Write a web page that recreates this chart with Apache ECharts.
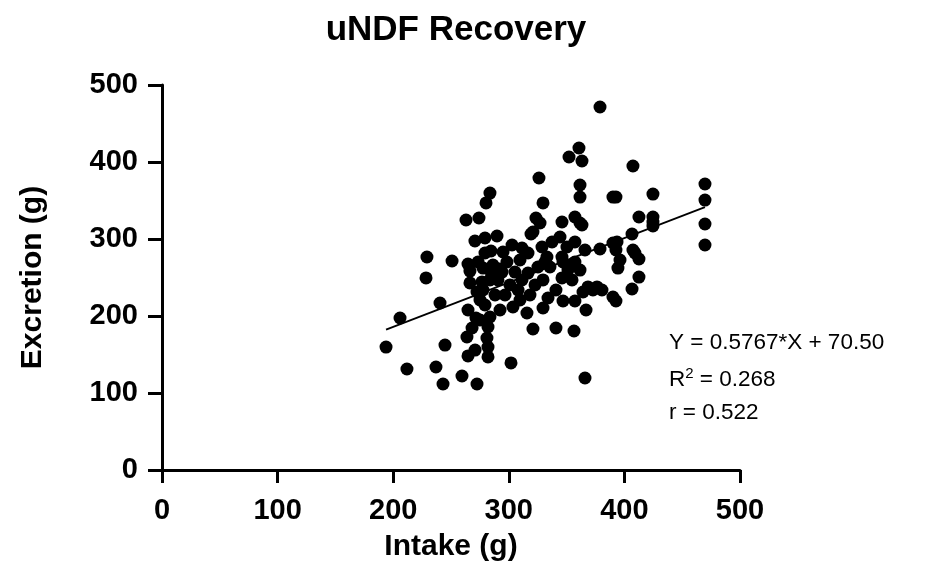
<!DOCTYPE html>
<html>
<head>
<meta charset="utf-8">
<script src="https://cdn.jsdelivr.net/npm/echarts@6/dist/echarts.min.js"></script>
<style>
html,body{margin:0;padding:0;background:#fff;}
#chart{width:942px;height:572px;}
</style>
</head>
<body>
<div id="chart"></div>
<script>
// Intake (g)
const intake = [
193.8,205.9,211.9,228.4,229.2,237.0,240.5,243.1,244.8,250.9,259.5,264.7,272.5,263.0,274.2,280.3,283.7,
270.7,279.4,289.8,264.7,266.4,279.4,284.6,266.4,276.8,283.7,290.6,263.8,268.2,281.1,282.0,282.0,
264.7,275.1,279.4,283.7,282.0,292.4,301.9,303.6,315.7,320.9,329.6,340.8,356.4,365.9,346.9,357.2,
366.8,372.8,380.6,390.1,392.7,326.1,329.6,323.5,327.0,319.2,361.6,361.6,378.9,360.7,352.1,363.3,
407.4,390.1,392.7,424.7,469.7,469.7,469.7,469.7,412.6,424.7,424.7,424.7,406.6,393.6,392.7,396.2,
407.4,409.1,412.6,412.6,406.6,394.4,346.0,357.2,361.6,320.9,344.3,337.4,357.2,350.3,365.9,378.9,
390.1,295.0,328.7,316.6,333.0,346.0,346.9,357.2,309.7,325.2,335.6,351.2,361.6,305.3,316.6,294.1,
289.8,311.4,329.6,346.0,354.7,368.5,376.3,363.3,
273.4,272.5,277.7,286.3,298.4,301.0,308.0,296.7,288.1,271.6,309.7,318.3,322.7,275.1,302.8,311.4,
340.8,333.9,364.2,331.3,270.8,277.7,285.0,292.0
];
// Excretion (g)
const excretion = [
159.7,197.4,131.2,249.4,276.6,133.8,216.9,111.7,162.3,271.4,122.1,148.1,111.7,324.7,327.3,346.8,359.7,
297.4,301.3,303.9,267.5,258.4,281.8,284.4,242.9,244.2,246.8,246.8,172.7,184.4,171.4,159.7,146.8,
207.8,220.8,214.3,198.7,185.7,207.8,139.0,211.7,203.9,183.1,210.4,184.4,180.5,119.5,219.5,219.5,
207.8,233.8,233.8,224.7,219.5,379.2,346.8,327.3,320.8,306.5,370.1,354.5,471.4,418.2,406.5,401.3,
394.8,354.5,354.5,358.4,371.4,350.6,319.5,292.2,328.6,328.6,322.1,316.9,306.5,296.1,285.7,272.7,
285.7,281.8,274.0,250.6,235.1,262.3,322.1,328.6,320.8,309.1,302.6,296.1,296.1,289.6,285.7,287.0,
294.8,283.1,289.6,281.8,276.6,276.6,270.1,270.1,272.7,263.6,263.6,259.7,259.7,257.1,255.8,257.1,
250.6,246.8,246.8,249.4,246.8,237.7,237.7,318.2,
270.1,231.2,262.3,266.2,270.1,240.3,233.8,227.3,227.3,197.4,220.8,227.3,240.3,194.8,292.2,288.3,
233.8,223.4,231.2,270.1,155.8,233.8,256.0,261.0
];
const xTicks = [0, 100, 200, 300, 400, 500];
const yTicks = [0, 100, 200, 300, 400, 500];
const slope = 0.5767;
const intercept = 70.50;
const fitLines = ["Y = 0.5767*X + 70.50", "R² = 0.268", "r = 0.522"];

const points = intake.map((x, i) => [x, excretion[i]]);
const xMin = Math.min(...intake), xMax = Math.max(...intake);
const fit = [[xMin, slope * xMin + intercept], [xMax, slope * xMax + intercept]];

const FONT = '"Liberation Sans", Arial, Helvetica, sans-serif';
const chart = echarts.init(document.getElementById('chart'), null, {renderer: 'canvas'});
chart.setOption({
  backgroundColor: '#fff',
  animation: false,
  title: {
    text: 'uNDF Recovery', left: 451, top: 8, textAlign: 'center',
    textStyle: {fontFamily: FONT, fontSize: 35, fontWeight: 'bold', color: '#000'}
  },
  grid: {left: 162, right: 202, top: 85, bottom: 102, containLabel: false},
  xAxis: {
    type: 'value', min: xTicks[0], max: xTicks[xTicks.length - 1], interval: 100,
    name: 'Intake (g)', nameLocation: 'middle', nameGap: 62,
    nameTextStyle: {fontFamily: FONT, fontSize: 30, fontWeight: 'bold', color: '#000'},
    axisLine: {onZero: false, lineStyle: {color: '#000', width: 3}},
    axisTick: {show: true, length: 13, lineStyle: {color: '#000', width: 3}},
    axisLabel: {fontFamily: FONT, fontSize: 29, fontWeight: 'bold', color: '#000', margin: 26},
    splitLine: {show: false}
  },
  yAxis: {
    type: 'value', min: yTicks[0], max: yTicks[yTicks.length - 1], interval: 100,
    name: 'Excretion (g)', nameLocation: 'middle', nameGap: 114, nameRotate: 90,
    nameTextStyle: {fontFamily: FONT, fontSize: 30, fontWeight: 'bold', color: '#000'},
    axisLine: {show: true, onZero: false, lineStyle: {color: '#000', width: 3}},
    axisTick: {show: true, length: 14, lineStyle: {color: '#000', width: 3}},
    axisLabel: {fontFamily: FONT, fontSize: 29, fontWeight: 'bold', color: '#000', margin: 24},
    splitLine: {show: false}
  },
  series: [
    {
      type: 'scatter', data: points, symbol: 'circle', symbolSize: 13,
      itemStyle: {color: '#000', opacity: 1}, z: 3
    },
    {
      type: 'line', data: fit, symbol: 'none', z: 4,
      lineStyle: {color: '#000', width: 1.8}
    }
  ],
  graphic: [
    {type: 'text', left: 669, top: 331, style: {text: fitLines[0], font: '22.5px ' + FONT, fill: '#000'}},
    {type: 'text', left: 669, top: 366, style: {
      text: '{a|R}{s|2}{a| = 0.268}',
      rich: {
        a: {fontFamily: FONT, fontSize: 22.5, color: '#000', verticalAlign: 'bottom'},
        s: {fontFamily: FONT, fontSize: 15, color: '#000', verticalAlign: 'top', padding: [0, 0, 10, 0]}
      }
    }},
    {type: 'text', left: 669, top: 401, style: {text: fitLines[2], font: '22.5px ' + FONT, fill: '#000'}}
  ]
});
</script>
</body>
</html>
